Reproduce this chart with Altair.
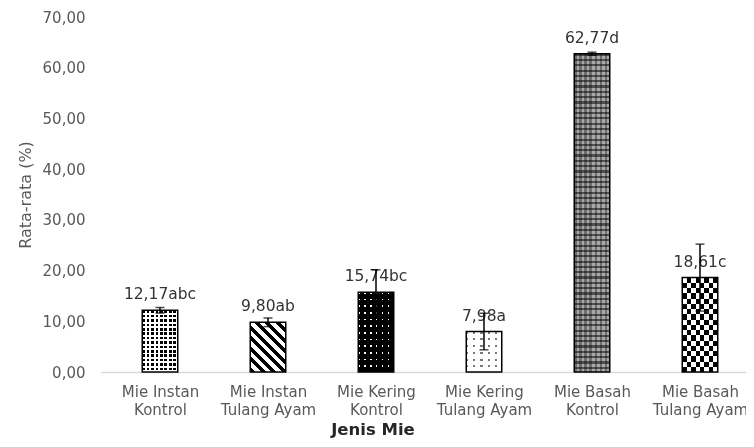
import json
import altair as alt
import pandas as pd

# ---- data ----
categories = ["Mie Instan Kontrol", "Mie Instan Tulang Ayam", "Mie Kering Kontrol",
              "Mie Kering Tulang Ayam", "Mie Basah Kontrol", "Mie Basah Tulang Ayam"]
label_lines = [["Mie Instan", "Kontrol"], ["Mie Instan", "Tulang Ayam"],
               ["Mie Kering", "Kontrol"], ["Mie Kering", "Tulang Ayam"],
               ["Mie Basah", "Kontrol"], ["Mie Basah", "Tulang Ayam"]]
means = [12.17, 9.80, 15.74, 7.98, 62.77, 18.61]
errors = [0.55, 0.85, 4.4, 3.6, 0.3, 6.6]
letters = ["abc", "ab", "bc", "a", "d", "c"]
y_ticks = [0, 10, 20, 30, 40, 50, 60, 70]

# ---- layout / style ----
PLOT_W, PLOT_H = 645, 355
STEP_PX = 109.7
BAR_W = 35.5
X_END = -0.5 + PLOT_W / STEP_PX
PPU = PLOT_H / 70.0
FONT = "DejaVu Sans"

df = pd.DataFrame({
    "idx": list(range(len(categories))),
    "cat": categories,
    "mean": means,
    "err": errors,
    "letter": letters,
})
df["lo"] = df["mean"] - df["err"]
df["hi"] = df["mean"] + df["err"]
df["label"] = [f"{m:.2f}".replace(".", ",") + l for m, l in zip(means, letters)]


def stripes(colors, fracs, n, along="x", x1=0, y1=0, x2=None, y2=None):
    stops = []
    for k in range(n):
        acc = k / n
        for c, f in zip(colors, fracs):
            end = acc + f / n
            stops.append({"offset": round(min(acc, 1), 5), "color": c})
            stops.append({"offset": round(min(end, 1), 5), "color": c})
            acc = end
    if x2 is None:
        if along == "x":
            x1, y1, x2, y2 = 0, 0, 1, 0
        else:
            x1, y1, x2, y2 = 0, 0, 0, 1
    return {"gradient": "linear", "x1": x1, "y1": y1, "x2": x2, "y2": y2, "stops": stops}


def h_px(i):
    return means[i] * PPU


xs = alt.Scale(domain=[-0.5, X_END], nice=False, zero=False)
ys = alt.Scale(domain=[0, 70], nice=False)

x_axis = alt.Axis(
    values=list(range(len(categories))),
    labelExpr=f"{json.dumps(label_lines)}[datum.value]",
    domainColor="#d9d9d9", domainWidth=1.5, ticks=False, grid=False,
    labelFont=FONT, labelFontSize=15, labelColor="#595959",
    labelPadding=12, labelLineHeight=18, labelBaseline="top",
    title="Jenis Mie", titleFont=FONT, titleFontSize=16.5, titleFontWeight="bold",
    titleColor="#262626", titleX=271.5, titleY=57, titleBaseline="middle",
    titleAlign="center",
)
y_axis = alt.Axis(
    values=y_ticks,
    labelExpr="replace(format(datum.value, '.2f'), '.', ',')",
    domain=False, ticks=False, grid=False,
    labelFont=FONT, labelFontSize=15, labelColor="#595959", labelPadding=16,
    title="Rata-rata (%)", titleFont=FONT, titleFontSize=16, titleFontWeight="normal",
    titleColor="#595959", titleX=-76, titleY=PLOT_H / 2, titleBaseline="middle",
    titleAlign="center", titleAngle=270,
)

X = alt.X("idx:Q", scale=xs, axis=x_axis)
Y = alt.Y("mean:Q", scale=ys, axis=y_axis)

base = alt.Chart(df)


def bar_layer(i, fill, blend=None):
    kw = dict(size=BAR_W, orient="vertical", fill=fill, strokeWidth=0)
    if blend:
        kw["blend"] = blend
    return base.transform_filter(alt.datum.idx == i).mark_bar(**kw).encode(x=X, y=Y)


layers = []
# 0: white with black dots
layers.append(bar_layer(0, stripes(["black", "white"], [0.6, 0.4], 8, "x")))
layers.append(bar_layer(0, stripes(["black", "white"], [0.6, 0.4], round(h_px(0) / 4.5), "y"), "lighten"))
# 1: diagonal hatch
q = -h_px(1) / BAR_W
layers.append(bar_layer(1, stripes(["black", "white"], [0.45, 0.55], 10,
                                   x1=0, y1=(1 - q) / 2, x2=1, y2=(1 + q) / 2)))
# 2: black with white dots
layers.append(bar_layer(2, stripes(["white", "black"], [0.25, 0.75], 6, "x")))
layers.append(bar_layer(2, stripes(["white", "black"], [0.25, 0.75], round(h_px(2) / 6.5), "y"), "darken"))
# 3: white with sparse grey marks
layers.append(bar_layer(3, stripes(["#7a7a7a", "white"], [0.3, 0.7], 5, "x")))
layers.append(bar_layer(3, stripes(["#7a7a7a", "white"], [0.3, 0.7], round(h_px(3) / 7), "y"), "lighten"))
# 4: grey grid
layers.append(bar_layer(4, stripes(["#6e6e6e", "#a8a8a8"], [0.5, 0.5], 7, "x")))
layers.append(bar_layer(4, stripes(["#7a7a7a", "white"], [0.4, 0.6], round(h_px(4) / 5.3), "y"), "multiply"))
# 5: checkerboard
layers.append(bar_layer(5, stripes(["black", "white"], [0.5, 0.5], 4, "x")))
layers.append(bar_layer(5, stripes(["white", "black"], [0.5, 0.5], round(h_px(5) / 10), "y"), "difference"))

outline = base.mark_bar(size=BAR_W, orient="vertical", fill="white", fillOpacity=0,
                        stroke="black", strokeWidth=1.5).encode(x=X, y=Y)

labels = base.mark_text(dy=-16, baseline="middle", align="center", font=FONT,
                        fontSize=15.5, color="#333333").encode(x=X, y=Y, text="label:N")

err_rule = base.mark_rule(color="black", strokeWidth=1.5).encode(
    x=X, y=alt.Y("lo:Q", scale=ys, axis=y_axis), y2="hi:Q")
cap_hi = base.mark_tick(orient="horizontal", size=9, thickness=1.5, color="black").encode(
    x=X, y=alt.Y("hi:Q", scale=ys, axis=y_axis))
cap_lo = base.mark_tick(orient="horizontal", size=9, thickness=1.5, color="black").encode(
    x=X, y=alt.Y("lo:Q", scale=ys, axis=y_axis))

chart = alt.layer(*layers, outline, labels, err_rule, cap_hi, cap_lo).properties(
    width=PLOT_W, height=PLOT_H,
    autosize=alt.AutoSizeParams(type="none"),
    padding={"left": 93, "top": 9, "right": 0, "bottom": 67},
    background="white",
).configure_view(stroke=None)

chart.save("out.html", embed_options={"renderer": "svg", "actions": False})
